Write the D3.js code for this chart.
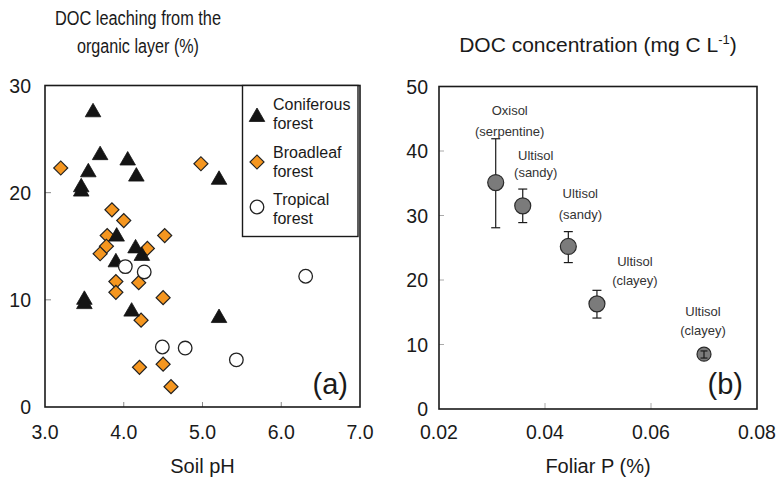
<!DOCTYPE html>
<html>
<head>
<meta charset="utf-8">
<script src="https://cdn.jsdelivr.net/npm/d3@7"></script>
<style>
  body { margin: 0; background: #fff; }
  svg text { font-family: "Liberation Sans", Arial, sans-serif; fill: #1a1a1a; }
</style>
</head>
<body>
<svg id="chart" width="778" height="481"></svg>
<script>
// panel (a): soil pH vs DOC leaching (%)
var coniferousPH  = [3.61, 3.70, 4.05, 3.55, 4.16, 3.46, 3.46, 5.21, 3.91, 4.15, 4.23, 3.90, 3.50, 3.50, 4.10, 5.21];
var coniferousDOC = [27.5, 23.5, 23.0, 21.9, 21.5, 20.5, 20.1, 21.2, 15.9, 14.8, 14.1, 13.5, 10.0, 9.6, 8.9, 8.3];
var broadleafPH  = [3.20, 4.98, 3.85, 4.00, 3.79, 3.78, 3.70, 4.30, 3.90, 3.90, 4.19, 4.52, 4.50, 4.22, 4.20, 4.50, 4.60];
var broadleafDOC = [22.3, 22.7, 18.4, 17.4, 16.0, 15.0, 14.3, 14.8, 11.7, 10.7, 11.6, 16.0, 10.2, 8.1, 3.7, 4.0, 1.9];
var tropicalPH  = [4.02, 4.26, 6.31, 4.49, 4.78, 5.43];
var tropicalDOC = [13.1, 12.6, 12.2, 5.6, 5.5, 4.4];
var xTicksA = [3, 4, 5, 6, 7];
var yTicksA = [0, 10, 20, 30];

// panel (b): foliar P vs DOC concentration
var soilNames = ["Oxisol", "Ultisol", "Ultisol", "Ultisol", "Ultisol"];
var soilTexture = ["(serpentine)", "(sandy)", "(sandy)", "(clayey)", "(clayey)"];
var foliarP = [0.0307, 0.0358, 0.0444, 0.0498, 0.0700];
var docConc = [35.1, 31.5, 25.2, 16.3, 8.5];
var docHigh = [41.9, 34.1, 27.5, 18.4, 9.0];
var docLow  = [28.1, 28.9, 22.7, 14.1, 7.9];
var xTicksB = [0.02, 0.04, 0.06, 0.08];
var yTicksB = [0, 10, 20, 30, 40, 50];

var svg = d3.select("#chart");

// ---------- panel (a) ----------
var xa = d3.scaleLinear().domain([3, 7]).range([45, 360]);
var ya = d3.scaleLinear().domain([0, 30]).range([407, 85.5]);

var ga = svg.append("g");

// inner ticks
ga.selectAll(".xt").data(xTicksA.slice(1, -1)).enter().append("line")
    .attr("x1", function (d) { return xa(d); }).attr("x2", function (d) { return xa(d); })
    .attr("y1", ya(0)).attr("y2", ya(0) - 5)
    .attr("stroke", "#888").attr("stroke-width", 1);
ga.selectAll(".yt").data(yTicksA.slice(1, -1)).enter().append("line")
    .attr("x1", xa(3)).attr("x2", xa(3) + 6)
    .attr("y1", function (d) { return ya(d); }).attr("y2", function (d) { return ya(d); })
    .attr("stroke", "#888").attr("stroke-width", 1);

ga.selectAll(".xl").data(xTicksA).enter().append("text")
    .attr("x", function (d) { return xa(d); })
    .attr("y", 439)
    .attr("text-anchor", "middle")
    .style("font-size", "19.5px")
    .text(function (d) { return d3.format(".1f")(d); });
ga.selectAll(".yl").data(yTicksA).enter().append("text")
    .attr("x", 31)
    .attr("y", function (d) { return ya(d) + 7; })
    .attr("text-anchor", "end")
    .style("font-size", "19.5px")
    .text(function (d) { return d; });

var tri = d3.symbol().type(d3.symbolTriangle).size(105);
var sq = d3.symbol().type(d3.symbolSquare).size(98);

ga.selectAll(".bl").data(broadleafPH).enter().append("path")
    .attr("d", sq)
    .attr("transform", function (d, i) { return "translate(" + xa(d) + "," + ya(broadleafDOC[i]) + ") rotate(45)"; })
    .attr("fill", "#f5961f").attr("stroke", "#222").attr("stroke-width", 1.2);

ga.selectAll(".cf").data(coniferousPH).enter().append("path")
    .attr("d", tri)
    .attr("transform", function (d, i) { return "translate(" + xa(d) + "," + ya(coniferousDOC[i]) + ")"; })
    .attr("fill", "#141414").attr("stroke", "#141414").attr("stroke-width", 0.8);

ga.selectAll(".tr").data(tropicalPH).enter().append("circle")
    .attr("cx", function (d) { return xa(d); })
    .attr("cy", function (d, i) { return ya(tropicalDOC[i]); })
    .attr("r", 6.8)
    .attr("fill", "#fff").attr("stroke", "#222").attr("stroke-width", 1.3);

ga.append("rect")
    .attr("x", xa(3)).attr("y", ya(30))
    .attr("width", xa(7) - xa(3)).attr("height", ya(0) - ya(30))
    .attr("fill", "none").attr("stroke", "#1a1a1a").attr("stroke-width", 1.6);

// legend
var lg = ga.append("g");
lg.append("rect").attr("x", 242.5).attr("y", 85.5).attr("width", 115.5).attr("height", 151)
    .attr("fill", "#fff").attr("stroke", "#1a1a1a").attr("stroke-width", 1.4);
var legendItems = [
    { l1: "Coniferous", l2: "forest", y: 104 },
    { l1: "Broadleaf", l2: "forest", y: 152 },
    { l1: "Tropical", l2: "forest", y: 199 }
];
lg.selectAll(".lt1").data(legendItems).enter().append("text")
    .attr("x", 273).attr("y", function (d) { return d.y + 6; })
    .style("font-size", "16px").text(function (d) { return d.l1; });
lg.selectAll(".lt2").data(legendItems).enter().append("text")
    .attr("x", 273).attr("y", function (d) { return d.y + 25; })
    .style("font-size", "16px").text(function (d) { return d.l2; });
lg.append("path").attr("d", tri).attr("transform", "translate(257,117)")
    .attr("fill", "#141414").attr("stroke", "#141414").attr("stroke-width", 0.8);
lg.append("path").attr("d", sq).attr("transform", "translate(257,162) rotate(45)")
    .attr("fill", "#f5961f").attr("stroke", "#222").attr("stroke-width", 1.2);
lg.append("circle").attr("cx", 257).attr("cy", 207).attr("r", 6.8)
    .attr("fill", "#fff").attr("stroke", "#222").attr("stroke-width", 1.3);

ga.append("text").attr("x", 348).attr("y", 394).attr("text-anchor", "end")
    .style("font-size", "29px").text("(a)");

// the left title is set a little narrower in the original
ga.append("text").attr("x", 138).attr("y", 25).attr("text-anchor", "middle")
    .attr("textLength", 166).attr("lengthAdjust", "spacingAndGlyphs")
    .style("font-size", "19.5px").text("DOC leaching from the");
ga.append("text").attr("x", 138).attr("y", 53).attr("text-anchor", "middle")
    .attr("textLength", 122).attr("lengthAdjust", "spacingAndGlyphs")
    .style("font-size", "19.5px").text("organic layer (%)");
ga.append("text").attr("x", xa(5)).attr("y", 473).attr("text-anchor", "middle")
    .style("font-size", "20px").text("Soil pH");

// ---------- panel (b) ----------
var xb = d3.scaleLinear().domain([0.02, 0.08]).range([439, 757]);
var yb = d3.scaleLinear().domain([0, 50]).range([409, 86.5]);

var gb = svg.append("g");

gb.selectAll(".xt").data(xTicksB.slice(1, -1)).enter().append("line")
    .attr("x1", function (d) { return xb(d); }).attr("x2", function (d) { return xb(d); })
    .attr("y1", yb(0)).attr("y2", yb(0) - 6)
    .attr("stroke", "#aaa").attr("stroke-width", 1);
gb.selectAll(".yt").data(yTicksB.slice(1, -1)).enter().append("line")
    .attr("x1", xb(0.02)).attr("x2", xb(0.02) + 5)
    .attr("y1", function (d) { return yb(d); }).attr("y2", function (d) { return yb(d); })
    .attr("stroke", "#aaa").attr("stroke-width", 1);

gb.selectAll(".xl").data(xTicksB).enter().append("text")
    .attr("x", function (d) { return xb(d); })
    .attr("y", 439)
    .attr("text-anchor", "middle")
    .style("font-size", "19.5px")
    .text(function (d) { return d3.format(".2f")(d); });
gb.selectAll(".yl").data(yTicksB).enter().append("text")
    .attr("x", 428)
    .attr("y", function (d) { return yb(d) + 7; })
    .attr("text-anchor", "end")
    .style("font-size", "19.5px")
    .text(function (d) { return d; });

// error bars
var eb = gb.selectAll(".eb").data(foliarP).enter().append("g");
eb.append("line")
    .attr("x1", function (d) { return xb(d); }).attr("x2", function (d) { return xb(d); })
    .attr("y1", function (d, i) { return yb(docHigh[i]); })
    .attr("y2", function (d, i) { return yb(docLow[i]); })
    .attr("stroke", "#1a1a1a").attr("stroke-width", 1.2);
eb.append("line")
    .attr("x1", function (d) { return xb(d) - 4.5; }).attr("x2", function (d) { return xb(d) + 4.5; })
    .attr("y1", function (d, i) { return yb(docHigh[i]); })
    .attr("y2", function (d, i) { return yb(docHigh[i]); })
    .attr("stroke", "#1a1a1a").attr("stroke-width", 1.2);
eb.append("line")
    .attr("x1", function (d) { return xb(d) - 4.5; }).attr("x2", function (d) { return xb(d) + 4.5; })
    .attr("y1", function (d, i) { return yb(docLow[i]); })
    .attr("y2", function (d, i) { return yb(docLow[i]); })
    .attr("stroke", "#1a1a1a").attr("stroke-width", 1.2);

gb.selectAll(".pt").data(foliarP).enter().append("circle")
    .attr("cx", function (d) { return xb(d); })
    .attr("cy", function (d, i) { return yb(docConc[i]); })
    .attr("r", function (d, i) { return i === 4 ? 7 : 8; })
    .attr("fill", "#7b7b7b").attr("stroke", "#2a2a2a").attr("stroke-width", 1.2);

// the short error bar of the last point sits on top of its marker
gb.append("line")
    .attr("x1", xb(foliarP[4])).attr("x2", xb(foliarP[4]))
    .attr("y1", yb(docHigh[4])).attr("y2", yb(docLow[4]))
    .attr("stroke", "#1a1a1a").attr("stroke-width", 1.2);
[docHigh[4], docLow[4]].forEach(function (v) {
    gb.append("line")
        .attr("x1", xb(foliarP[4]) - 3.5).attr("x2", xb(foliarP[4]) + 3.5)
        .attr("y1", yb(v)).attr("y2", yb(v))
        .attr("stroke", "#1a1a1a").attr("stroke-width", 1.2);
});

// soil labels, offsets from each marker
var labelDx = [14, 13, 12, 38, -1];
var labelDy = [-73, -51, -53, -43, -43];
var labelGap = [21, 17, 21, 19, 19];
gb.selectAll(".sn").data(soilNames).enter().append("text")
    .attr("x", function (d, i) { return xb(foliarP[i]) + labelDx[i]; })
    .attr("y", function (d, i) { return yb(docConc[i]) + labelDy[i] + 5; })
    .attr("text-anchor", "middle")
    .style("font-size", "13px").style("fill", "#333")
    .text(function (d) { return d; });
gb.selectAll(".st").data(soilTexture).enter().append("text")
    .attr("x", function (d, i) { return xb(foliarP[i]) + labelDx[i]; })
    .attr("y", function (d, i) { return yb(docConc[i]) + labelDy[i] + labelGap[i] + 5; })
    .attr("text-anchor", "middle")
    .style("font-size", "13px").style("fill", "#333")
    .text(function (d) { return d; });

gb.append("rect")
    .attr("x", xb(0.02)).attr("y", yb(50))
    .attr("width", xb(0.08) - xb(0.02)).attr("height", yb(0) - yb(50))
    .attr("fill", "none").attr("stroke", "#1a1a1a").attr("stroke-width", 1.6);

gb.append("text").attr("x", 743).attr("y", 394).attr("text-anchor", "end")
    .style("font-size", "29px").text("(b)");

var tb = gb.append("text").attr("x", 598).attr("y", 52).attr("text-anchor", "middle")
    .style("font-size", "21px");
tb.append("tspan").text("DOC concentration (mg C L");
tb.append("tspan").attr("dy", -8).style("font-size", "13px").text("-1");
tb.append("tspan").attr("dy", 8).text(")");

gb.append("text").attr("x", xb(0.05)).attr("y", 473).attr("text-anchor", "middle")
    .style("font-size", "20px").text("Foliar P (%)");
</script>
</body>
</html>
